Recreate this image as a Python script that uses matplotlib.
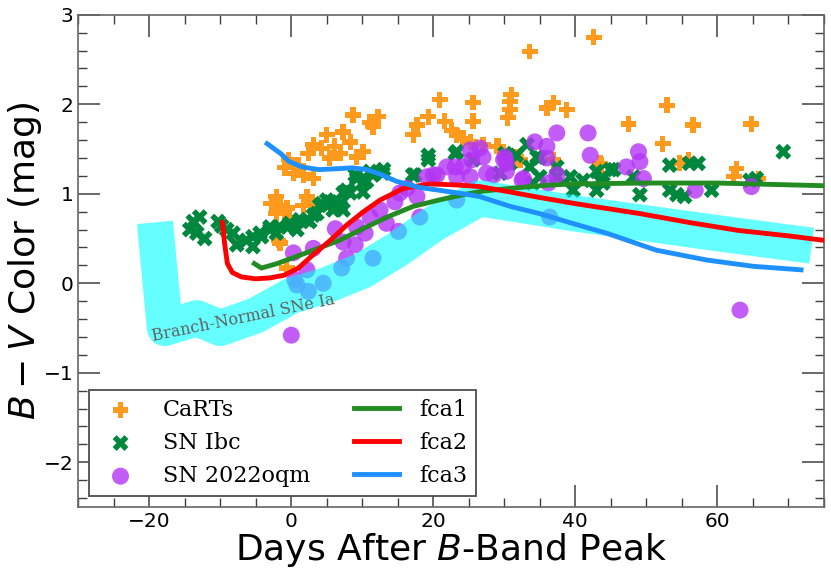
import matplotlib
matplotlib.use('Agg')
import matplotlib.pyplot as plt
from matplotlib.ticker import MultipleLocator

# CaRTs (days, B-V)
carts_t = [-2.1, -1.6, -2.8, -0.6, -2.1, -0.2, -1.8, -1.6, -0.65, 2.2, 1.7, 2.9,
           -0.4, 1.0, -0.9, 0.3, 1.7, 3.1, 2.4, 3.1, 4.3, 5.0, 6.1, 5.4, 6.9, 7.3,
           8.3, 9.2, 10.1, 8.7, 11.5, 11.1, 12.2,
           17.2, 17.7, 19.3, 20.9, 21.6, 22.6, 23.3, 24.2, 25.2, 25.6, 25.6, 27.0,
           28.9, 29.1, 30.5, 30.8, 30.8, 31.0, 31.7, 32.2, 33.6, 36.0, 36.9, 36.9,
           38.8, 42.6, 43.5, 43.7, 47.5, 52.3, 52.9, 54.7, 55.9, 56.6, 62.3, 62.7,
           64.8, 65.8]
carts_c = [0.97, 0.87, 0.89, 0.84, 0.78, 0.73, 0.48, 0.45, 0.17, 0.97, 0.87, 0.89,
           1.38, 1.32, 1.29, 1.23, 1.21, 1.17, 1.45, 1.55, 1.51, 1.66, 1.53, 1.40, 1.45, 1.69,
           1.58, 1.41, 1.47, 1.88, 1.75, 1.80, 1.86,
           1.66, 1.77, 1.86, 2.05, 1.81, 1.71, 1.66, 1.62, 1.58, 2.02, 1.81, 1.55,
           1.53, 1.53, 1.85, 1.94, 2.03, 2.11, 1.41, 1.38, 2.59, 1.96, 2.02, 1.38,
           1.94, 2.75, 1.34, 1.32, 1.78, 1.56, 1.99, 1.34, 1.38, 1.77, 1.19, 1.28,
           1.78, 1.17]

# SN Ibc
ibc_t = [-14.3, -13.8, -12.9, -13.3, -12.2, -10.3, -9.8, -9.1, -8.2, -7.7, -6.3, -5.4,
         -5.4, -4.4, -4.2, -3.0, -3.0, -2.1, -1.6, -0.6, -0.2, 0.8, 1.2, 2.2, 2.6,
         3.1, 3.6, 4.0, 4.3, 5.0, 5.5, 5.9, 5.9, 6.9, 6.9, 7.3, 7.3, 7.8, 8.3, 9.0,
         9.2, 10.1, 10.1, 10.6, 11.1, 11.5, 12.9, 13.0,
         17.1, 17.4, 19.3, 19.3, 23.3, 23.1, 25.6, 29.4, 30.1, 30.8, 31.7, 33.2,
         33.6, 34.0, 34.6, 35.0, 35.0, 37.4, 37.4, 39.3, 39.7, 41.1, 43.0, 43.0,
         43.5, 43.9, 44.9, 45.4, 48.2, 49.1, 53.3, 53.3, 54.3, 55.4, 56.1, 57.3,
         59.2, 64.6, 65.5, 69.3]
ibc_c = [0.60, 0.69, 0.74, 0.56, 0.50, 0.69, 0.64, 0.60, 0.56, 0.43, 0.48, 0.41,
         0.52, 0.56, 0.52, 0.60, 0.63, 0.56, 0.63, 0.63, 0.67, 0.60, 0.71, 0.71, 0.69,
         0.76, 0.78, 0.87, 0.89, 0.93, 0.91, 0.89, 0.82, 0.86, 0.89, 1.01, 0.82, 1.04, 1.01, 1.21,
         1.17, 1.12, 1.02, 1.14, 1.25, 1.21, 1.23, 1.27,
         1.21, 1.21, 1.43, 1.38, 1.47, 1.45, 1.38, 1.23, 1.45, 1.34, 1.43, 1.55,
         1.30, 1.12, 1.41, 1.19, 1.40, 1.30, 1.19, 1.19, 1.04, 1.15, 1.25, 1.04,
         1.15, 1.12, 1.27, 1.27, 1.19, 0.99, 1.32, 1.04, 0.99, 0.97, 1.34, 1.34,
         1.04, 1.15, 1.17, 1.47]

# SN 2022oqm
oqm_t = [0.0, 0.3, 0.5, 0.8, 2.4, 4.5, 2.2, 3.1, 6.2, 7.1, 7.3, 7.8, 9.0, 9.2, 10.4,
         11.1, 11.5, 12.5, 13.4, 14.6, 15.1, 15.3, 16.3, 17.7, 18.1, 19.1, 20.0, 20.5,
         21.9, 23.1, 23.3, 23.3, 24.2, 25.2, 25.4, 25.2, 26.6, 27.0, 27.5, 28.5, 29.9,
         30.1, 30.3, 30.3, 32.5, 32.7, 34.3, 36.0, 36.0, 36.2, 36.4, 37.4, 37.4, 41.8,
         42.1, 47.2, 48.9, 49.1, 49.6, 56.9, 63.2, 64.8]
oqm_c = [-0.58, 0.34, 0.04, -0.02, -0.09, 0.0, 0.15, 0.39, 0.61, 0.17, 0.46, 0.28, 0.43, 0.63, 0.56,
         0.74, 0.28, 0.82, 0.67, 0.91, 0.58, 1.01, 1.06, 0.97, 0.74, 1.19, 1.21, 1.21,
         1.30, 1.30, 0.93, 1.19, 1.30, 1.49, 1.38, 1.19, 1.51, 1.41, 1.23, 1.21, 1.38,
         1.41, 1.34, 1.25, 1.15, 1.17, 1.58, 1.53, 1.40, 1.12, 0.74, 1.68, 1.21, 1.68,
         1.43, 1.30, 1.47, 1.36, 1.17, 1.04, -0.30, 1.08]

# model curves
fca1_t = [-5.2, -4.2, -2.0, 1.1, 3.1, 6.8, 10.1, 13.8, 17.2, 20.8, 24.2, 27.0, 30.8,
          35.0, 39.6, 50.0, 60.0, 70.0, 75.0]
fca1_c = [0.22, 0.17, 0.22, 0.31, 0.37, 0.48, 0.61, 0.75, 0.86, 0.93, 0.99, 1.03, 1.06,
          1.09, 1.11, 1.12, 1.12, 1.10, 1.09]
fca2_t = [-9.7, -9.4, -9.0, -8.3, -7.0, -5.0, -3.0, -1.0, 1.0, 3.1, 5.5, 7.8, 10.0,
          12.5, 15.8, 19.5, 23.0, 26.6, 30.8, 34.9, 40.0, 49.0, 56.0, 63.0, 70.0, 75.0]
fca2_c = [0.68, 0.45, 0.22, 0.12, 0.07, 0.05, 0.06, 0.09, 0.17, 0.32, 0.48, 0.65, 0.79,
          0.93, 1.06, 1.11, 1.10, 1.08, 1.02, 0.96, 0.89, 0.78, 0.68, 0.59, 0.53, 0.48]
fca3_t = [-3.4, -1.5, -0.3, 1.5, 3.9, 6.5, 8.6, 10.6, 12.5, 14.8, 18.1, 20.8, 24.2,
          26.5, 30.8, 34.9, 40.0, 44.4, 51.4, 58.5, 65.0, 71.8]
fca3_c = [1.56, 1.45, 1.36, 1.30, 1.27, 1.28, 1.29, 1.27, 1.22, 1.14, 1.07, 1.04, 1.00,
          0.97, 0.86, 0.78, 0.66, 0.56, 0.37, 0.26, 0.19, 0.15]

# branch-normal SNe Ia band (centre line)
ia_t = [-19.2, -17.8, -13.3, -10.0, -5.0, 0.0, 5.0, 10.0, 15.0, 20.0, 26.5, 40.0, 60.0, 73.3]
ia_c = [0.68, -0.50, -0.39, -0.50, -0.36, -0.14, -0.02, 0.14, 0.38, 0.66, 0.95, 0.78, 0.56, 0.42]

fig = plt.figure(figsize=(8.31, 5.76), dpi=100)
ax = fig.add_axes([0.0942, 0.1198, 0.8971, 0.8545])

ax.scatter(carts_t, carts_c, marker='P', s=130, color='#FF9A1C', edgecolors='none',
           label='CaRTs', zorder=2)
ax.scatter(ibc_t, ibc_c, marker='X', s=130, color='#00873E', edgecolors='none',
           label='SN Ibc', zorder=2.1)
ax.scatter(oqm_t, oqm_c, marker='o', s=150, color='#B335F5', alpha=0.8, edgecolors='none',
           label='SN 2022oqm', zorder=2.2)

ax.plot(ia_t, ia_c, color='cyan', alpha=0.6, lw=26, solid_capstyle='butt',
        solid_joinstyle='round', zorder=2.5)
ax.text(-19.8, -0.64, 'Branch-Normal SNe Ia', family='DejaVu Serif', fontsize=11.5,
        color='#606060', rotation=11.5, zorder=2.6)

ax.plot(fca1_t, fca1_c, color='forestgreen', lw=3.5, label='fca1', zorder=3)
ax.plot(fca2_t, fca2_c, color='red', lw=3.5, label='fca2', zorder=3)
ax.plot(fca3_t, fca3_c, color='dodgerblue', lw=3.5, label='fca3', zorder=3)

ax.set_xlim(-30, 75)
ax.set_ylim(-2.5, 3)
ax.xaxis.set_major_locator(MultipleLocator(20))
ax.xaxis.set_minor_locator(MultipleLocator(5))
ax.yaxis.set_major_locator(MultipleLocator(1))
ax.yaxis.set_minor_locator(MultipleLocator(0.2))
ax.tick_params(which='both', direction='in', top=True, right=True, color='0.25',
               labelsize=14.5)
ax.tick_params(which='major', length=16, width=1.1)
ax.tick_params(which='minor', length=6.5, width=1.0)
for sp in ax.spines.values():
    sp.set_color('0.4')
    sp.set_linewidth(1.2)

ax.set_xlabel('Days After $B$-Band Peak', fontsize=26, labelpad=0)
ax.set_ylabel('$B-V$ Color (mag)', fontsize=26, labelpad=0)

leg = ax.legend(loc='lower left', ncol=2, prop={'family': 'DejaVu Serif', 'size': 16},
                fancybox=False, edgecolor='0.3', framealpha=1, handlelength=2.0,
                handletextpad=0.9, columnspacing=2.0, borderaxespad=0.5)
leg.get_frame().set_linewidth(1.3)

fig.savefig('out.png', dpi=100)
